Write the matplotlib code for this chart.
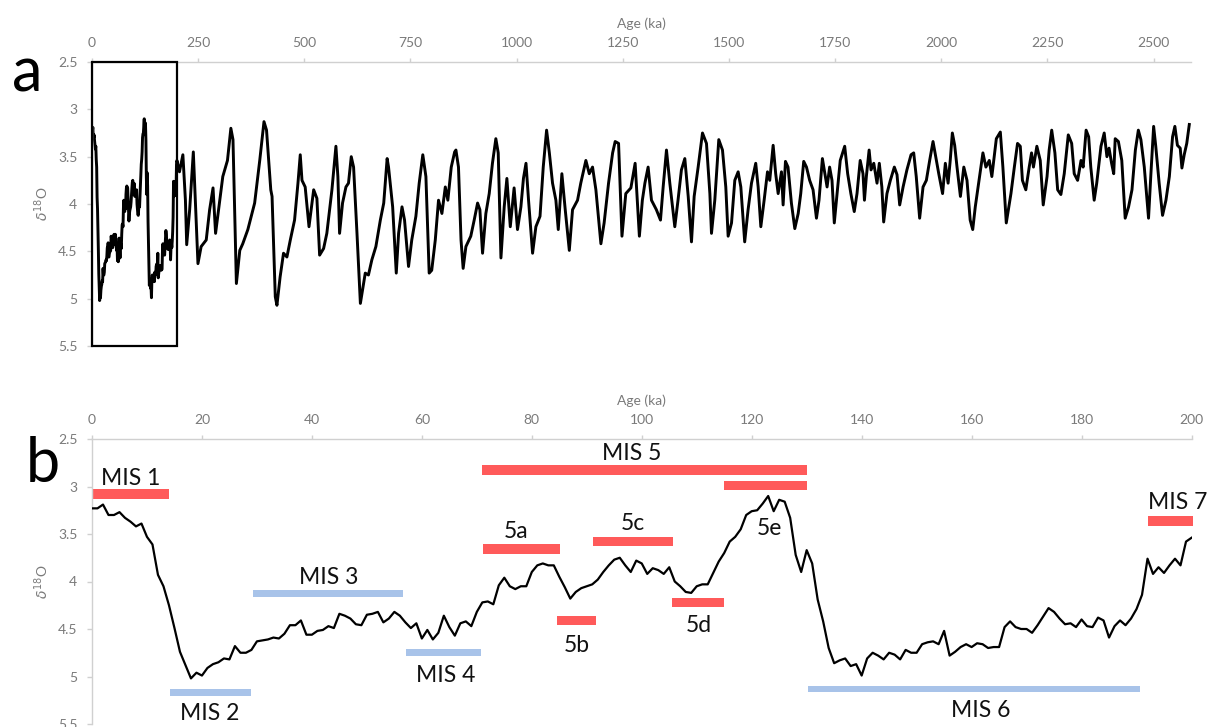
import numpy as np
import matplotlib
matplotlib.use("Agg")
import matplotlib.pyplot as plt
from matplotlib.patches import Rectangle
from matplotlib.ticker import FuncFormatter

plt.rcParams['font.family'] = ['Lato', 'DejaVu Sans']

# ---------------------------------------------------------------------------
# Benthic d18O stack, last 200 ka at 1 ka steps
recent_age = np.arange(0, 201)
recent_d18o = [
    3.23, 3.23, 3.19, 3.30, 3.30, 3.27, 3.33, 3.37, 3.42, 3.39,
    3.53, 3.61, 3.93, 4.05, 4.25, 4.49, 4.74, 4.88, 5.02, 4.96,
    4.99, 4.91, 4.87, 4.85, 4.81, 4.82, 4.68, 4.75, 4.75, 4.72,
    4.63, 4.62, 4.61, 4.59, 4.60, 4.55, 4.46, 4.46, 4.41, 4.56,
    4.56, 4.52, 4.51, 4.47, 4.49, 4.34, 4.36, 4.39, 4.45, 4.46,
    4.35, 4.34, 4.32, 4.43, 4.39, 4.32, 4.36, 4.43, 4.49, 4.44,
    4.60, 4.51, 4.61, 4.54, 4.36, 4.48, 4.57, 4.44, 4.42, 4.47,
    4.32, 4.22, 4.21, 4.24, 4.04, 3.96, 4.05, 4.08, 4.05, 4.05,
    3.90, 3.83, 3.81, 3.83, 3.83, 3.95, 4.06, 4.18, 4.11, 4.07,
    4.05, 4.03, 3.98, 3.90, 3.83, 3.77, 3.75, 3.83, 3.90, 3.78,
    3.81, 3.92, 3.86, 3.88, 3.92, 3.85, 4.00, 4.05, 4.11, 4.12,
    4.05, 4.03, 4.03, 3.91, 3.79, 3.70, 3.58, 3.53, 3.45, 3.30,
    3.26, 3.25, 3.18, 3.10, 3.26, 3.14, 3.16, 3.33, 3.72, 3.90,
    3.67, 3.81, 4.19, 4.42, 4.70, 4.86, 4.83, 4.81, 4.89, 4.87,
    4.99, 4.81, 4.75, 4.78, 4.82, 4.75, 4.77, 4.82, 4.72, 4.75,
    4.75, 4.66, 4.64, 4.63, 4.66, 4.52, 4.78, 4.74, 4.69, 4.66,
    4.69, 4.65, 4.66, 4.70, 4.69, 4.69, 4.48, 4.42, 4.48, 4.50,
    4.50, 4.54, 4.46, 4.37, 4.28, 4.32, 4.39, 4.45, 4.44, 4.48,
    4.40, 4.47, 4.48, 4.38, 4.41, 4.59, 4.47, 4.41, 4.46, 4.39,
    4.29, 4.14, 3.76, 3.92, 3.85, 3.91, 3.83, 3.76, 3.83, 3.58,
    3.54,
]

# Older part of the stack, 200 ka to the base of the Quaternary
older_age = [
    206, 214, 220, 223, 230, 238.6, 243, 249.5, 257, 269, 277, 285, 291, 299,
    308, 319, 327, 332, 340, 348, 355, 367, 383, 395, 405, 411, 421, 424,
    431.6, 435.5, 443, 451, 459, 467, 477, 485, 490.4, 494.5, 502, 511, 522,
    529.6, 536, 545.4, 553, 565, 574.4, 579, 583, 590, 598, 604, 610.5, 616,
    624, 632, 637, 643.5, 651, 659, 668.5, 679, 687, 695, 698.3, 708, 716.5,
    722, 730, 736, 745.4, 753, 762.7, 770.5, 779, 786.3, 794, 800, 808.4, 816,
    824, 832, 838, 846, 854, 857, 863, 869, 874, 880.5, 892, 900, 908, 913.4,
    919.7, 927.5, 935.4, 943, 951, 956.6, 963, 970.7, 977, 985, 994, 1002,
    1010, 1016, 1022, 1028, 1037.5, 1045.3, 1055, 1062.6, 1070.5, 1077,
    1084.5, 1092.4, 1098, 1106.5, 1114.4, 1124, 1131.6, 1143.4, 1151, 1163,
    1171, 1178.7, 1186.6, 1198.4, 1206, 1216.4, 1226, 1232, 1240, 1248, 1257,
    1269, 1279, 1289, 1296, 1302, 1309.6, 1317.5, 1329, 1338.7, 1345, 1352.8,
    1360.7, 1372.4, 1380, 1388, 1396, 1404, 1411.7, 1418, 1427.4, 1437.6,
    1447, 1455, 1458.8, 1466.6, 1476, 1484.7, 1492.5, 1498, 1506, 1513.7,
    1521.6, 1527.9, 1537, 1545, 1553, 1563, 1568.7, 1575, 1582.8, 1590.7,
    1596, 1604, 1610, 1615.8, 1623.6, 1627.5, 1633, 1639, 1647, 1655, 1663,
    1669, 1676, 1682.5, 1690, 1698, 1706, 1712, 1720, 1731, 1737, 1742.6,
    1748, 1756, 1762, 1772.5, 1779.5, 1787, 1795, 1801.5, 1809, 1815.6, 1819,
    1823.5, 1830, 1834.5, 1841, 1848.6, 1854, 1860, 1864.3, 1872, 1880,
    1889.4, 1895.7, 1902, 1910, 1919, 1928.7, 1935, 1941, 1949, 1957, 1964.8,
    1972.6, 1980.5, 1986.8, 1994, 2003, 2009.5, 2016, 2021, 2026, 2031.5,
    2037, 2045, 2053, 2060.5, 2068, 2074, 2080, 2088, 2098, 2105, 2113, 2119,
    2129.6, 2139, 2145, 2153, 2164, 2172, 2179.5, 2186, 2191, 2199, 2207,
    2212.5, 2217, 2225, 2233, 2240, 2249, 2254, 2260, 2267.5, 2274, 2281.6,
    2289.5, 2299, 2307, 2313, 2321, 2329, 2334, 2341, 2347, 2352, 2360, 2366,
    2376, 2383.6, 2390, 2395, 2401, 2406, 2409.5, 2417, 2425, 2433, 2441,
    2449, 2457, 2464, 2470, 2478, 2488, 2493.6, 2500, 2505, 2513, 2521, 2529,
    2537, 2544.6, 2550, 2556, 2562.6, 2566.6, 2572, 2578, 2584,
]
older_d18o = [
    3.66, 3.48, 3.96, 4.43, 4.06, 3.45, 3.92, 4.63, 4.45, 4.38, 4.06, 3.83, 4.31, 4.03,
    3.71, 3.54, 3.20, 3.32, 4.84, 4.49, 4.42, 4.27, 3.99, 3.54, 3.13, 3.22, 3.85, 3.92,
    4.98, 5.07, 4.77, 4.52, 4.56, 4.38, 4.17, 3.78, 3.48, 3.75, 3.82, 4.24, 3.85,
    3.94, 4.54, 4.47, 4.31, 3.85, 3.39, 3.71, 4.31, 3.99, 3.82, 3.78, 3.50, 3.61,
    4.31, 5.05, 4.91, 4.73, 4.75, 4.59, 4.45, 4.17, 3.99, 3.52, 3.61, 4.03, 4.73,
    4.31, 4.03, 4.17, 4.66, 4.38, 4.13, 3.78, 3.48, 3.71, 4.73, 4.70, 4.38, 3.96,
    4.10, 3.82, 3.96, 3.61, 3.45, 3.43, 3.61, 4.38, 4.68, 4.45, 4.34, 4.17, 3.99, 4.06,
    4.52, 4.10, 3.89, 3.57, 3.31, 3.46, 4.57, 4.03, 3.73, 4.24, 3.83, 4.27,
    4.03, 3.73, 3.57, 3.96, 4.52, 4.24, 4.13, 3.61, 3.22, 3.46,
    3.78, 3.96, 4.27, 3.68, 4.06, 4.49, 4.06, 3.96, 3.78, 3.54,
    3.68, 3.61, 3.85, 4.42, 4.20, 3.78, 3.46, 3.34, 3.36, 4.34, 3.89,
    3.83, 3.57, 4.34, 3.96, 3.78, 3.61, 3.96, 4.06, 4.17, 3.82, 3.43,
    3.78, 4.24, 3.96, 3.64, 3.52, 3.92, 4.40, 3.92, 3.61, 3.25,
    3.36, 3.89, 4.31, 3.96, 3.32, 3.43, 3.82, 4.34, 4.20, 3.75,
    3.66, 3.82, 4.40, 4.06, 3.78, 3.57, 3.82, 4.24, 3.96, 3.66,
    3.75, 3.38, 3.68, 3.89, 3.66, 4.01, 3.55, 3.61, 3.99, 4.26, 4.10,
    3.89, 3.55, 3.61, 3.75, 3.85, 4.15, 3.96, 3.52, 3.82, 3.61, 3.75,
    4.20, 3.82, 3.54, 3.39, 3.68, 3.89, 4.08, 3.89, 3.54, 3.68, 3.96,
    3.71, 3.43, 3.64, 3.57, 3.78, 3.57, 3.82, 4.19, 3.89, 3.75,
    3.61, 3.69, 4.01, 3.82, 3.64, 3.48, 3.46, 3.71, 4.15, 3.82, 3.75,
    3.54, 3.34, 3.50, 3.68, 3.89, 3.57, 3.78, 3.54, 3.25, 3.38,
    3.61, 3.92, 3.61, 3.75, 4.17, 4.27, 4.03, 3.78, 3.46, 3.61, 3.54, 3.71,
    3.31, 3.24, 3.61, 4.20, 3.89, 3.61, 3.36, 3.39, 3.75, 3.85, 3.61,
    3.46, 3.61, 3.39, 3.54, 4.01, 3.71, 3.43, 3.22, 3.46, 3.85, 3.90,
    3.68, 3.27, 3.36, 3.68, 3.75, 3.54, 3.61, 3.22, 3.29, 3.61, 3.96, 3.78,
    3.39, 3.25, 3.50, 3.41, 3.57, 3.68, 3.31, 3.34, 3.54, 4.15, 4.03,
    3.85, 3.43, 3.22, 3.32, 3.61, 4.15, 3.68, 3.18, 3.39, 3.78, 4.12, 3.96,
    3.71, 3.29, 3.18, 3.38, 3.41, 3.62, 3.48, 3.36, 3.16,
]

# Marine isotope stages: label, start (ka), end (ka), bar level, warm/cold
stage_names = ["MIS 1", "MIS 2", "MIS 3", "MIS 4", "MIS 5", "5a", "5b",
               "5c", "5d", "5e", "MIS 6", "MIS 7"]
stage_start = [0, 14.1, 29.3, 57.2, 70.9, 71.1, 84.6, 91.2, 105.5, 115.0, 130.3, 192.0]
stage_end = [14.0, 29.0, 56.6, 70.8, 130.0, 85.1, 91.7, 105.7, 115.0, 130.0, 190.6, 200.3]
stage_level = [3.077, 5.167, 4.128, 4.75, 2.827, 3.66, 4.41, 3.58, 4.22, 2.989, 5.13, 3.365]
stage_warm = [True, False, False, False, True, True, True, True, True, True, False, True]
# where each stage name sits (age, baseline value)
label_age = [7.0, 21.4, 43.1, 64.3, 98.1, 77.2, 88.2, 98.4, 110.4, 123.2, 161.7, 192.1]
label_level = [2.982, 5.461, 4.03, 5.063, 2.718, 3.544, 4.747, 3.463, 4.536, 3.509, 5.425, 3.235]

zoom_window = (0, 200)          # ka, outlined in the long record
d18o_range = (2.5, 5.5)
long_ticks = list(range(0, 2501, 250))
recent_ticks = list(range(0, 201, 20))
value_ticks = [2.5, 3.0, 3.5, 4.0, 4.5, 5.0, 5.5]

# ---------------------------------------------------------------------------
WARM = "#FF5A5A"
COLD = "#A8C3E9"
GREY = "#7A7A7A"
AXIS = "#D0D0D0"

W, H = 1210, 727
fig = plt.figure(figsize=(W / 100, H / 100), dpi=100)
ax_a = fig.add_axes([92 / W, 1 - 346 / H, (1191 - 92) / W, (346 - 62) / H])
ax_b = fig.add_axes([92 / W, 1 - 724 / H, (1191.5 - 92) / W, (724 - 439) / H])

fmt = FuncFormatter(lambda v, p: "%g" % v)


def style_axes(ax, xmax, xticks):
    ax.set_xlim(0, xmax)
    ax.set_ylim(d18o_range[1], d18o_range[0])
    ax.xaxis.set_ticks_position("top")
    ax.xaxis.set_label_position("top")
    ax.set_xticks(xticks)
    ax.set_yticks(value_ticks)
    ax.yaxis.set_major_formatter(fmt)
    for s in ("right", "bottom"):
        ax.spines[s].set_visible(False)
    for s in ("top", "left"):
        ax.spines[s].set_color(AXIS)
        ax.spines[s].set_linewidth(1.0)
    ax.tick_params(axis="x", colors=AXIS, labelcolor=GREY, labelsize=10,
                   length=3, width=1.0, pad=6.5)
    ax.tick_params(axis="y", colors=AXIS, labelcolor=GREY, labelsize=10,
                   length=3.5, width=1.0, pad=7)
    ax.set_xlabel("Age (ka)", color=GREY, fontsize=10, labelpad=6)
    ax.set_ylabel(r"$\delta^{18}$O", color=GREY, fontsize=10, labelpad=5)


# (a) full record
long_age = np.concatenate([recent_age, older_age])
long_d18o = np.concatenate([recent_d18o, older_d18o])
style_axes(ax_a, 2588, long_ticks)
ax_a.plot(long_age, long_d18o, color="black", lw=2.1)
ax_a.add_patch(Rectangle((zoom_window[0], d18o_range[0]),
                         zoom_window[1] - zoom_window[0],
                         d18o_range[1] - d18o_range[0],
                         fill=False, edgecolor="black", lw=1.6, clip_on=False, zorder=5))

# (b) last 200 ka with stage bars
style_axes(ax_b, 200, recent_ticks)
for s0, s1, lev, warm in zip(stage_start, stage_end, stage_level, stage_warm):
    ax_b.barh(lev, s1 - s0, left=s0, height=0.1 if warm else 0.07,
              color=WARM if warm else COLD, clip_on=False, zorder=2)
ax_b.plot(recent_age, recent_d18o, color="black", lw=1.6, zorder=3)
for name, xa, yl in zip(stage_names, label_age, label_level):
    ax_b.text(xa, yl, name, fontsize=16.5, color="#111111",
              ha="left" if name == "MIS 7" else "center", va="baseline",
              clip_on=False)

fig.text(12 / W, 1 - 92 / H, "a", fontsize=44, color="black", va="baseline")
fig.text(26 / W, 1 - 482 / H, "b", fontsize=44, color="black", va="baseline")

fig.savefig("out.png", dpi=100)
